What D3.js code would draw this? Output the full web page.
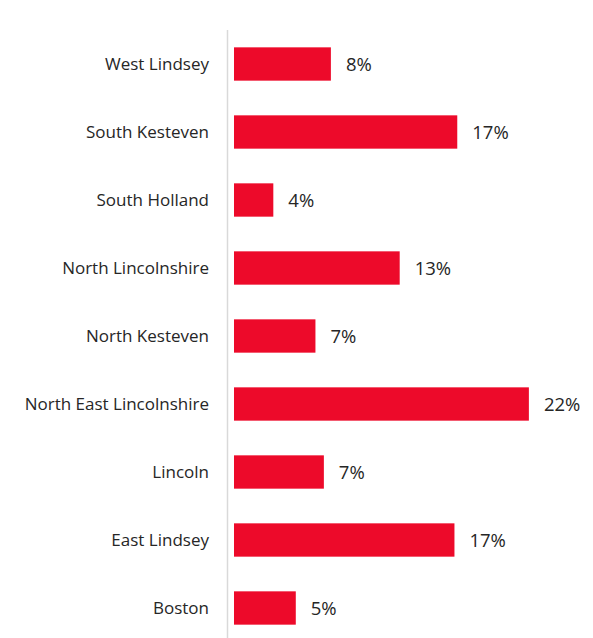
<!DOCTYPE html>
<html>
<head>
<meta charset="utf-8">
<script src="https://cdn.jsdelivr.net/npm/d3@7"></script>
<style>
  body { margin: 0; background: #fff; }
  text { font-family: "Open Sans", sans-serif; fill: #262626; }
</style>
</head>
<body>
<div id="chart"></div>
<script>
// districts, top to bottom
var districts = ["West Lindsey", "South Kesteven", "South Holland", "North Lincolnshire",
    "North Kesteven", "North East Lincolnshire", "Lincoln", "East Lindsey", "Boston"];
// share (%); labels are the rounded values
var shares = [7.9, 16.9, 3.8, 12.8, 6.8, 22.0, 7.4, 16.7, 5.4];

var width = 593, height = 638;

var svg = d3.select("#chart").append("svg")
    .attr("width", width)
    .attr("height", height);

var y = d3.scaleBand()
    .domain(districts)
    .range([30, 642])
    .paddingInner(0.51)
    .paddingOuter(0.255);

// horizontal axis starts at 1%
var x = d3.scaleLinear()
    .domain([1, 25])
    .range([234, 571]);

// category axis line
svg.append("line")
    .attr("x1", 227.5).attr("x2", 227.5)
    .attr("y1", 30).attr("y2", height)
    .style("stroke", "#d9d9d9")
    .style("stroke-width", 1.5);

var data = districts.map(function(d, i) {
    return {name: d, value: shares[i]};
});

svg.selectAll("rect.bar")
    .data(data)
    .enter()
    .append("rect")
    .attr("class", "bar")
    .attr("x", x(1))
    .attr("y", function(d) { return y(d.name); })
    .attr("width", function(d) { return x(d.value) - x(1); })
    .attr("height", y.bandwidth())
    .style("fill", "#ed0a2a");

// category labels
svg.selectAll("text.cat")
    .data(data)
    .enter()
    .append("text")
    .attr("class", "cat")
    .attr("x", 209)
    .attr("y", function(d) { return y(d.name) + y.bandwidth() / 2; })
    .attr("dy", "0.35em")
    .style("text-anchor", "end")
    .style("font-size", "17px")
    .text(function(d) { return d.name; });

// value labels
svg.selectAll("text.val")
    .data(data)
    .enter()
    .append("text")
    .attr("class", "val")
    .attr("x", function(d) { return x(d.value) + 15; })
    .attr("y", function(d) { return y(d.name) + y.bandwidth() / 2; })
    .attr("dy", "0.36em")
    .style("font-size", "18.5px")
    .text(function(d) { return Math.round(d.value) + "%"; });
</script>
</body>
</html>
